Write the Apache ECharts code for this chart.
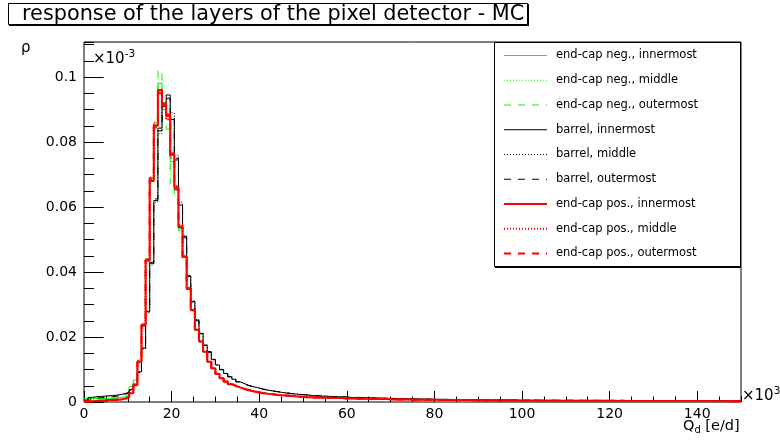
<!DOCTYPE html>
<html><head><meta charset="utf-8">
<script src="https://cdn.jsdelivr.net/npm/echarts@6/dist/echarts.min.js"></script>
<style>html,body{margin:0;padding:0;background:#fff}#c{width:780px;height:444px}</style>
</head><body><div id="c"></div>
<script>
// 160 bins of width 0.9375 (x10^3 e/d) over 0-150; values in units of 10^-3
const binWidth = 0.9375;
const seriesNames = [
  'end-cap neg., innermost','end-cap neg., middle','end-cap neg., outermost',
  'barrel, innermost','barrel, middle','barrel, outermost',
  'end-cap pos., innermost','end-cap pos., middle','end-cap pos., outermost'
];
// bins 0..44
const negInner = [
0.0011,0.0010,0.0010,0.0010,0.0011,0.0011,0.0012,0.0013,0.0014,0.0016,
0.0022,0.0047,0.0068,0.0129,0.0240,0.0440,0.0690,0.0855,0.0980,0.0900,
0.0870,0.0740,0.0660,0.0535,0.0445,0.0348,0.0281,0.0220,0.0185,0.0154,
0.0123,0.0103,0.0086,0.0073,0.0063,0.0055,0.0050,0.0045,0.0041,0.0037,
0.0034,0.0031,0.0029,0.0027,0.0025];
const negMiddle = [
0.0009,0.0009,0.0009,0.0009,0.0010,0.0010,0.0011,0.0012,0.0013,0.0015,
0.0020,0.0040,0.0062,0.0126,0.0238,0.0442,0.0685,0.0860,0.1000,0.0875,
0.0880,0.0700,0.0655,0.0530,0.0448,0.0350,0.0282,0.0221,0.0186,0.0153,
0.0124,0.0104,0.0087,0.0072,0.0063,0.0056,0.0050,0.0045,0.0041,0.0037,
0.0034,0.0031,0.0029,0.0027,0.0025];
const negOuter = [
0.0010,0.0009,0.0009,0.0010,0.0010,0.0011,0.0011,0.0012,0.0013,0.0015,
0.0021,0.0043,0.0065,0.0127,0.0239,0.0438,0.0688,0.0850,0.1020,0.0850,
0.0840,0.0660,0.0640,0.0528,0.0446,0.0349,0.0283,0.0222,0.0185,0.0155,
0.0124,0.0103,0.0086,0.0073,0.0064,0.0055,0.0050,0.0045,0.0041,0.0037,
0.0034,0.0031,0.0029,0.0027,0.0025];
const barrelInner = [
0.0006,0.0014,0.0016,0.0017,0.0018,0.0019,0.0020,0.0021,0.0023,0.0026,
0.0030,0.0038,0.0055,0.0093,0.0166,0.0278,0.0427,0.0620,0.0843,0.0920,
0.0945,0.0870,0.0745,0.0606,0.0509,0.0386,0.0309,0.0252,0.0211,0.0175,
0.0155,0.0131,0.0114,0.0100,0.0088,0.0078,0.0070,0.0062,0.0057,0.0052,
0.0048,0.0045,0.0042,0.0039,0.0036];
const barrelMiddle = [
0.0005,0.0012,0.0015,0.0016,0.0017,0.0018,0.0019,0.0020,0.0022,0.0025,
0.0029,0.0036,0.0053,0.0091,0.0163,0.0275,0.0422,0.0615,0.0825,0.0910,
0.0930,0.0890,0.0760,0.0615,0.0512,0.0390,0.0312,0.0254,0.0212,0.0176,
0.0154,0.0132,0.0114,0.0101,0.0088,0.0079,0.0070,0.0063,0.0057,0.0052,
0.0048,0.0045,0.0042,0.0039,0.0036];
const barrelOuter = [
0.0004,0.0010,0.0012,0.0013,0.0014,0.0015,0.0016,0.0018,0.0020,0.0023,
0.0028,0.0035,0.0052,0.0090,0.0165,0.0280,0.0430,0.0625,0.0835,0.0925,
0.0935,0.0875,0.0750,0.0610,0.0505,0.0388,0.0308,0.0250,0.0210,0.0174,
0.0153,0.0130,0.0113,0.0099,0.0087,0.0077,0.0069,0.0062,0.0056,0.0051,
0.0047,0.0044,0.0041,0.0038,0.0035];
const posInner = [
0.0001,0.0002,0.0003,0.0004,0.0005,0.0006,0.0006,0.0007,0.0008,0.0010,
0.0016,0.0027,0.0052,0.0124,0.0237,0.0437,0.0680,0.0850,0.0960,0.0915,
0.0880,0.0760,0.0660,0.0540,0.0447,0.0350,0.0283,0.0222,0.0186,0.0155,
0.0124,0.0104,0.0086,0.0073,0.0063,0.0055,0.0050,0.0045,0.0041,0.0037,
0.0034,0.0031,0.0029,0.0027,0.0025];
const posMiddle = [
0.0001,0.0002,0.0003,0.0004,0.0004,0.0005,0.0006,0.0007,0.0008,0.0010,
0.0016,0.0028,0.0054,0.0126,0.0240,0.0440,0.0685,0.0860,0.0955,0.0920,
0.0870,0.0750,0.0665,0.0545,0.0450,0.0352,0.0285,0.0224,0.0187,0.0156,
0.0125,0.0105,0.0087,0.0074,0.0064,0.0056,0.0050,0.0046,0.0041,0.0037,
0.0034,0.0032,0.0029,0.0027,0.0025];
const posOuter = [
0.0002,0.0002,0.0003,0.0003,0.0004,0.0005,0.0006,0.0007,0.0008,0.0009,
0.0015,0.0026,0.0050,0.0122,0.0235,0.0435,0.0690,0.0845,0.0950,0.0910,
0.0885,0.0765,0.0655,0.0538,0.0445,0.0348,0.0282,0.0221,0.0185,0.0154,
0.0123,0.0103,0.0086,0.0072,0.0062,0.0055,0.0049,0.0045,0.0040,0.0037,
0.0034,0.0031,0.0028,0.0026,0.0025];
// bins 45..159
const tailEndcap = [
0.0024,0.0022,0.0021,0.0020,0.0019,0.0018,0.0017,0.0016,0.0015,0.0015,0.0014,
0.0014,0.0013,0.0013,0.0013,0.0012,0.0012,0.0012,0.0011,0.0011,0.0011,0.0010,0.0010,0.0010,0.0010,0.0009,0.0009,0.0009,
0.0009,0.0008,0.0008,0.0008,0.0008,0.0008,0.0007,0.0007,0.0007,0.0007,0.0007,0.0007,
0.0007,0.0006,0.0006,0.0006,0.0006,0.0006,0.0006,0.0006,0.0006,0.0005,0.0006,0.0005,0.0005,0.0005,0.0005,0.0005,0.0005,0.0005,0.0005,0.0005,0.0005,0.0005,
0.0005,0.0004,0.0005,0.0004,0.0004,0.0004,0.0004,0.0004,0.0004,0.0004,0.0004,0.0004,0.0004,0.0004,0.0004,0.0004,0.0004,0.0004,0.0004,0.0004,0.0004,
0.0004,0.0003,0.0004,0.0003,0.0003,0.0003,0.0003,0.0003,0.0003,0.0003,0.0003,0.0003,0.0003,0.0003,0.0003,0.0003,0.0003,0.0003,0.0003,0.0003,0.0003,0.0003,0.0003,0.0003,0.0003,0.0002,0.0003,0.0003,0.0002,0.0002,0.0003,0.0002];
const tailBarrel = [
0.0034,0.0032,0.0030,0.0028,0.0027,0.0025,0.0024,0.0023,0.0022,0.0021,0.0019,
0.0019,0.0018,0.0018,0.0017,0.0017,0.0016,0.0016,0.0015,0.0014,0.0014,0.0014,0.0013,0.0013,0.0013,0.0012,0.0012,0.0012,
0.0011,0.0011,0.0011,0.0010,0.0010,0.0010,0.0010,0.0009,0.0009,0.0009,0.0009,0.0008,
0.0008,0.0008,0.0008,0.0008,0.0007,0.0007,0.0007,0.0007,0.0007,0.0007,0.0007,0.0006,0.0006,0.0006,0.0006,0.0006,0.0006,0.0006,0.0006,0.0006,0.0005,0.0005,
0.0005,0.0005,0.0006,0.0005,0.0005,0.0005,0.0005,0.0005,0.0005,0.0004,0.0005,0.0005,0.0004,0.0005,0.0004,0.0004,0.0004,0.0004,0.0004,0.0004,0.0004,
0.0004,0.0004,0.0004,0.0004,0.0004,0.0004,0.0003,0.0004,0.0003,0.0003,0.0003,0.0003,0.0003,0.0003,0.0003,0.0003,0.0003,0.0003,0.0003,0.0003,0.0003,0.0003,0.0003,0.0003,0.0003,0.0003,0.0003,0.0003,0.0003,0.0003,0.0003,0.0003];

const heads = [negInner,negMiddle,negOuter,barrelInner,barrelMiddle,barrelOuter,posInner,posMiddle,posOuter];
const tails = [tailEndcap,tailEndcap,tailEndcap,tailBarrel,tailBarrel,tailBarrel,tailEndcap,tailEndcap,tailEndcap];
const colors = ['#00ff00','#00ff00','#00ff00','#000000','#000000','#000000','#ff0000','#ff0000','#ff0000'];
const widths = [1,1,1,1,1,1,2,2,2];
const dashes = ['solid',[1,2],[7,7],'solid',[1,2],[7,7],'solid',[1,2],[7,7]];

function steps(arr){
  const pts = arr.map((v,i)=>[i*binWidth, v]);
  pts.push([arr.length*binWidth, arr[arr.length-1]]);
  return pts;
}
const FF = 'DejaVu Sans';
const series = heads.map((h,k)=>({
  type:'line', name:seriesNames[k], data:steps(h.concat(tails[k])),
  step:'end', symbol:'none', showSymbol:false, silent:true, animation:false, clip:true,
  lineStyle:{color:colors[k], width:widths[k], type:dashes[k]},
  itemStyle:{color:colors[k]}, z:2+k*0.01
}));

// hand-drawn legend (ROOT style: line sample + text)
const legendEls = [];
seriesNames.forEach((name,k)=>{
  const y = 55.5 + k*24.75;
  const ls = {stroke:colors[k], lineWidth:widths[k], fill:null,
              lineDash: Array.isArray(dashes[k]) ? dashes[k] : null};
  legendEls.push({type:'polyline', z:5, silent:true, shape:{points:[[504, y],[547, y]]}, style:ls});
  legendEls.push({type:'text', z:5, silent:true, x:556, y:y, style:{text:name, fontFamily:FF, fontSize:11.5, fill:'#000', textVerticalAlign:'middle'}});
});

const chart = echarts.init(document.getElementById('c'), null, {renderer:'canvas'});
chart.setOption({
  animation:false,
  backgroundColor:'#fff',
  grid:{left:84, top:42, right:39, bottom:42, show:true, borderColor:'#000', borderWidth:1, backgroundColor:'transparent'},
  xAxis:[
    {type:'value', min:0, max:150, interval:20, position:'bottom',
     axisLine:{show:false}, splitLine:{show:false},
     axisTick:{inside:true, length:11, lineStyle:{color:'#000', width:1}},
     axisLabel:{margin:5, color:'#000', fontFamily:FF, fontSize:14, showMaxLabel:false}},
    {type:'value', min:0, max:150, interval:5, position:'bottom',
     axisLine:{show:false}, splitLine:{show:false},
     axisTick:{inside:true, length:5.5, lineStyle:{color:'#000', width:1}},
     axisLabel:{show:false}}
  ],
  yAxis:[
    {type:'value', min:0, max:0.1108, interval:0.02, position:'left',
     axisLine:{show:false}, splitLine:{show:false},
     axisTick:{inside:true, length:19.7, lineStyle:{color:'#000', width:1}},
     axisLabel:{margin:7, color:'#000', fontFamily:FF, fontSize:14, showMaxLabel:false,
       formatter:v=> v===0 ? '0' : String(+v.toFixed(3))}},
    {type:'value', min:0, max:0.1108, interval:0.005, position:'left',
     axisLine:{show:false}, splitLine:{show:false},
     axisTick:{inside:true, length:10, lineStyle:{color:'#000', width:1}},
     axisLabel:{show:false}}
  ],
  graphic:[
    {type:'rect', z:3, shape:{x:494.5, y:42.5, width:246, height:224}, style:{fill:'#fff', stroke:'#000', lineWidth:1}},
    {type:'line', z:3, shape:{x1:495, y1:267.5, x2:741, y2:267.5}, style:{stroke:'#000', lineWidth:1}},
    {type:'rect', z:3, shape:{x:8.5, y:3.5, width:519, height:21}, style:{fill:'#fff', stroke:'#000', lineWidth:1}},
    {type:'line', z:3, shape:{x1:9, y1:25.5, x2:529, y2:25.5}, style:{stroke:'#000', lineWidth:1}},
    {type:'line', z:3, shape:{x1:528.5, y1:4, x2:528.5, y2:26}, style:{stroke:'#000', lineWidth:1}},
    {type:'text', z:4, x:22, y:14.5, style:{text:'response of the layers of the pixel detector - MC', fontFamily:FF, fontSize:20.8, fill:'#000', textVerticalAlign:'middle'}},
    {type:'text', z:4, x:21, y:48, style:{text:'ρ', fontFamily:FF, fontSize:15, fill:'#000', textVerticalAlign:'middle'}},
    {type:'text', z:4, x:93, y:59, style:{text:'×10{s|-3}', fontFamily:FF, fontSize:15, fill:'#000', textVerticalAlign:'middle',
       rich:{s:{fontSize:10.5, fontFamily:FF, padding:[0,0,9,0]}}}},
    {type:'text', z:4, x:742, y:396, style:{text:'×10{s|3}', fontFamily:FF, fontSize:15, fill:'#000', textVerticalAlign:'middle',
       rich:{s:{fontSize:10.5, fontFamily:FF, padding:[0,0,9,0]}}}},
    {type:'text', z:4, x:683, y:426, style:{text:'Q{d|d} [e/d]', fontFamily:FF, fontSize:14.5, fill:'#000', textVerticalAlign:'middle',
       rich:{d:{fontSize:10, fontFamily:FF, padding:[9,0,0,0]}}}}
  ].concat(legendEls),
  series:series
});
</script></body></html>
